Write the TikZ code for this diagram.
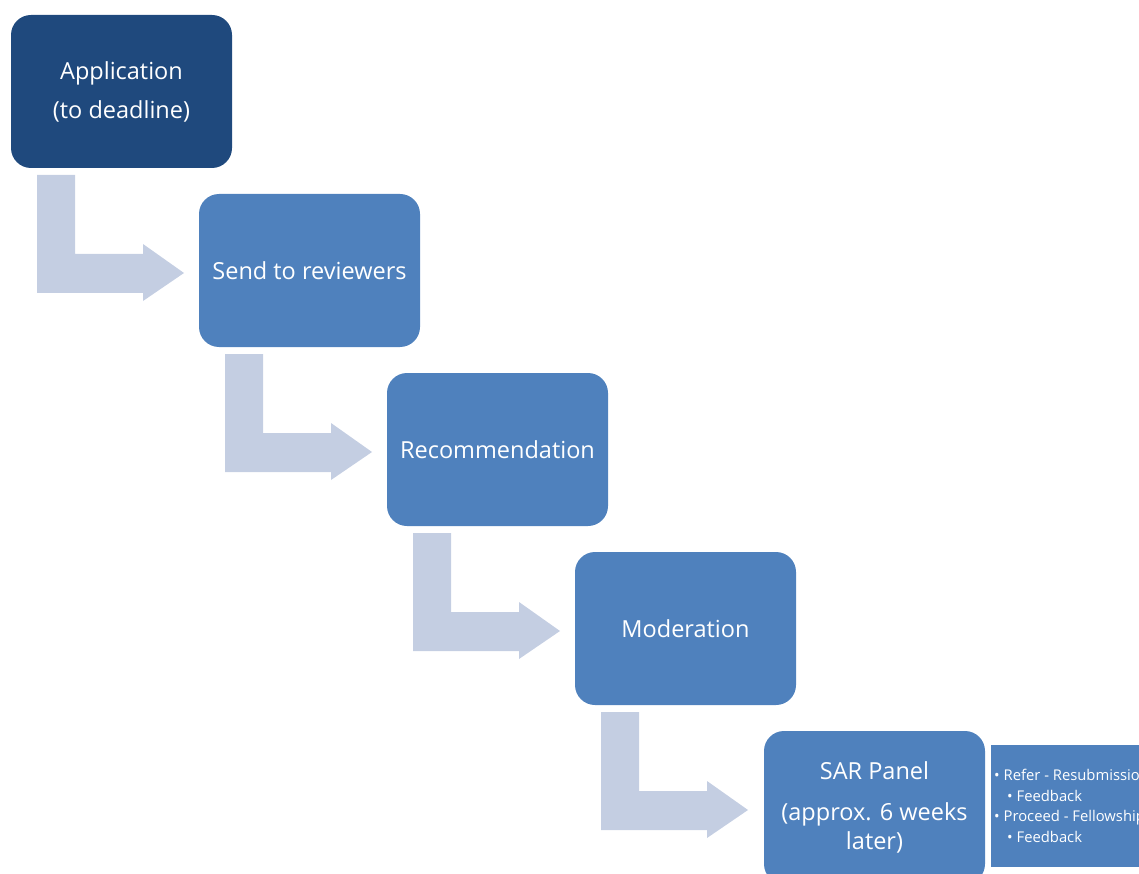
\documentclass[tikz,border=0pt]{standalone}
\usepackage{fontspec}
\setmainfont{Open Sans}
\definecolor{darkblue}{RGB}{31,73,125}
\definecolor{midblue}{RGB}{79,129,189}
\definecolor{paleblue}{RGB}{196,206,226}
\begin{document}
\begin{tikzpicture}[x=1pt,y=-1pt,
  stepbox/.style={rectangle, rounded corners=20pt, fill=midblue, text=white,
    minimum width=221pt, minimum height=153pt, inner sep=0pt, align=center,
    font=\fontsize{23.5}{29}\selectfont},
  bentarrow/.style={fill=paleblue, draw=none}]
\clip (0,0) rectangle (1139,874);
\useasboundingbox (0,0) rectangle (1139,874);
\node[stepbox, fill=darkblue] (app) at (121.5,91.5) {\raisebox{-2pt}{Application}\\[10pt]\raisebox{-2pt}{(to deadline)}};
\node[stepbox] (send) at (309.5,270.5) {Send to reviewers};
\node[stepbox] (rec) at (497.5,449.5) {Recommendation};
\node[stepbox] (mod) at (685.5,628.5) {Moderation};
\node[stepbox] (sar) at (874.5,807.5) {SAR Panel\\[12pt](approx. 6 weeks\\later)};
\node[rectangle, fill=midblue, minimum width=160pt, minimum height=122pt, inner sep=0pt, anchor=north west] (side) at (991,745) {};
\node[anchor=west, text=white, align=left, inner sep=0pt,
  font=\fontsize{14.8}{20.8}\selectfont] (sidetext) at (994,806)
  {• Refer - Resubmission\\\hspace*{13pt}• Feedback\\• Proceed - Fellowship\\\hspace*{13pt}• Feedback};
\foreach \k in {0,1,2,3}{
  \begin{scope}[shift={(188*\k,179*\k)}]
    \fill[bentarrow] (37,175) -- (75,175) -- (75,254) -- (143,254) -- (143,244)
      -- (184,273) -- (143,301) -- (143,293) -- (37,293) -- cycle;
  \end{scope}
}
\end{tikzpicture}
\end{document}
